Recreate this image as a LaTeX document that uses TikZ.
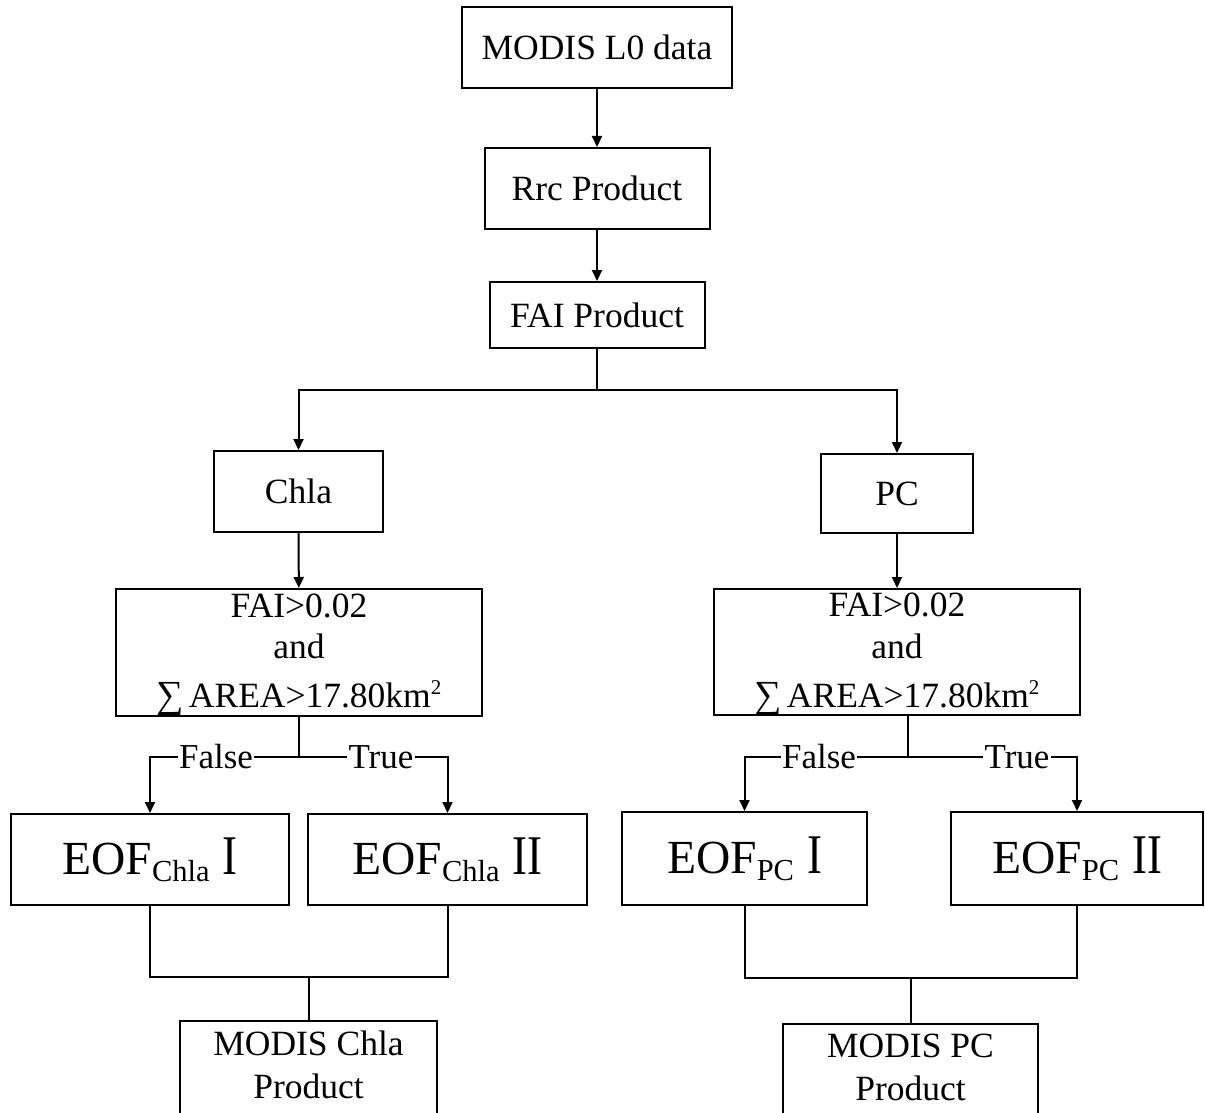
\documentclass[tikz,border=0pt]{standalone}
\usepackage{fontspec}
\setmainfont{Liberation Serif}
\usetikzlibrary{arrows.meta}
\newcommand{\eoftext}[2]{{\fontsize{47.5}{50}\selectfont EOF}\raisebox{-7pt}{\fontsize{30.5}{32}\selectfont #1}\hspace{13pt}\scalebox{0.8}[1]{\fontsize{56}{60}\selectfont #2}}
\newcommand{\areatext}{\scalebox{1.08}{∑}\hspace{5pt}AREA>17.80km\raisebox{13pt}{\fontsize{21}{21}\selectfont 2}}
\begin{document}
\begin{tikzpicture}[x=1pt,y=-1pt,
  line width=2pt,
  box/.style={draw, line width=2pt, inner sep=0pt, font=\fontsize{35.5}{44}\selectfont},
  txt/.style={inner sep=0pt, font=\fontsize{35.5}{44}\selectfont},
  lbl/.style={fill=white, inner xsep=1.5pt, inner ysep=1pt, font=\fontsize{35}{40}\selectfont},
  arr/.style={-{Triangle[length=11pt,width=10pt]}},
  con/.style={line width=2pt}]
\useasboundingbox (0,0) rectangle (1205,1113);
\clip (0,0) rectangle (1205,1113);

% top chain
\node[box, minimum width=270pt, minimum height=81pt] (l0) at (597,47.5) {MODIS L0 data};
\node[box, minimum width=225pt, minimum height=81pt] (rrc) at (597,188.5) {Rrc Product};
\node[box, minimum width=215pt, minimum height=66pt] (fai) at (597,315) {FAI Product};

% branches
\node[box, minimum width=169pt, minimum height=81pt] (chla) at (298.5,491.5) {Chla};
\node[box, minimum width=152pt, minimum height=79pt] (pc) at (897,493.5) {PC};

% condition boxes
\node[box, minimum width=366pt, minimum height=127pt] (condl) at (299,652.5) {};
\node[txt, anchor=base] (condl1) at (299,617) {FAI>0.02};
\node[txt, anchor=base] (condl2) at (299,658) {and};
\node[txt, anchor=base] (condl3) at (299,707) {\areatext};

\node[box, minimum width=366pt, minimum height=126pt] (condr) at (897,652) {};
\node[txt, anchor=base] (condr1) at (897,616) {FAI>0.02};
\node[txt, anchor=base] (condr2) at (897,658) {and};
\node[txt, anchor=base] (condr3) at (897,707) {\areatext};

% EOF boxes
\node[box, minimum width=278pt, minimum height=91pt] (eof1) at (150,859.5) {\eoftext{Chla}{I}};
\node[box, minimum width=279pt, minimum height=91pt] (eof2) at (447.5,859.5) {\eoftext{Chla}{II}};
\node[box, minimum width=245pt, minimum height=93pt] (eof3) at (744.5,858.5) {\eoftext{PC}{I}};
\node[box, minimum width=252pt, minimum height=93pt] (eof4) at (1077,858.5) {\eoftext{PC}{II}};

% output boxes (cut by the lower edge)
\node[box, anchor=north, minimum width=257pt, minimum height=140pt] (outl) at (308.5,1020) {};
\node[txt, anchor=base] (outl1) at (308.5,1055) {MODIS Chla};
\node[txt, anchor=base] (outl2) at (308.5,1098) {Product};
\node[box, anchor=north, minimum width=255pt, minimum height=140pt] (outr) at (910.5,1023) {};
\node[txt, anchor=base] (outr1) at (910.5,1057) {MODIS PC};
\node[txt, anchor=base] (outr2) at (910.5,1100) {Product};

% connectors
\draw[con, arr] (l0) -- (rrc);
\draw[con, arr] (rrc) -- (fai);
\coordinate (split) at (597,390);
\draw[con] (fai.south) -- (split);
\draw[con, arr] (split) -| (chla.north);
\draw[con, arr] (split) -| (pc.north);
\draw[con, arr] (chla) -- (condl);
\draw[con, arr] (pc) -- (condr);

\coordinate (lsplit) at (299,757);
\draw[con] (condl.south) -- (lsplit);
\draw[con, arr] (lsplit) -| (eof1.north);
\draw[con, arr] (lsplit) -| (eof2.north);
\node[lbl] (lfalse) at (216,757) {False};
\node[lbl] (ltrue) at (381,757) {True};

\coordinate (rsplit) at (908,757);
\draw[con] (rsplit |- condr.south) -- (rsplit);
\draw[con, arr] (rsplit) -| (eof3.north);
\draw[con, arr] (rsplit) -| (eof4.north);
\node[lbl] (rfalse) at (819,757) {False};
\node[lbl] (rtrue) at (1017,757) {True};

\coordinate (ljoin) at (308.5,977);
\draw[con] (eof1.south) |- (ljoin) -| (eof2.south);
\draw[con] (ljoin) -- (outl.north);
\coordinate (rjoin) at (910.5,978);
\draw[con] (eof3.south) |- (rjoin) -| (eof4.south);
\draw[con] (rjoin) -- (outr.north);
\end{tikzpicture}
\end{document}
